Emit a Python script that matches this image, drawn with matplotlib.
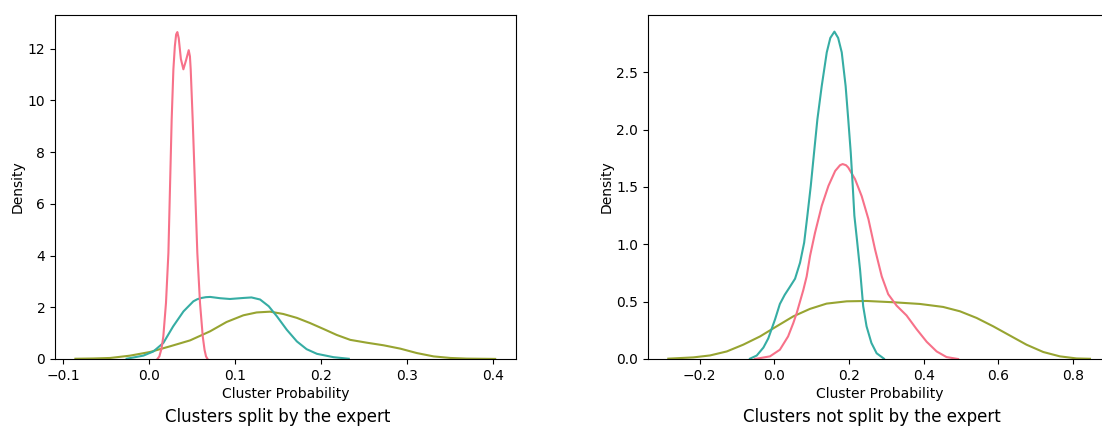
import matplotlib
matplotlib.use("Agg")
import matplotlib.pyplot as plt

# husl palette, 3 colours
colors = {"pink": "#f77189", "olive": "#97a431", "teal": "#36ada4"}

# --- left panel: clusters split by the expert ---
split_pink_x = [0.0097, 0.012, 0.0145, 0.0166, 0.0197, 0.0225, 0.0244, 0.0263, 0.0283, 0.030,
                0.0315, 0.0329, 0.0345, 0.037, 0.0399, 0.043, 0.0461, 0.0475, 0.0484, 0.0507,
                0.0534, 0.0561, 0.0592, 0.0624, 0.0645, 0.0662, 0.068]
split_pink_y = [0.0, 0.1, 0.4, 0.87, 2.17, 4.10, 6.68, 9.26, 11.2, 12.1,
                12.55, 12.64, 12.4, 11.6, 11.2, 11.55, 11.94, 11.7, 11.2, 9.26,
                6.68, 4.10, 2.17, 0.87, 0.35, 0.1, 0.0]

split_teal_x = [-0.026, -0.0066, 0.005, 0.0166, 0.028, 0.040, 0.0515, 0.056, 0.061, 0.066,
                0.071, 0.0826, 0.094, 0.1096, 0.119, 0.129, 0.139, 0.1485, 0.160, 0.1717,
                0.183, 0.195, 0.2143, 0.232]
split_teal_y = [0.01, 0.13, 0.29, 0.62, 1.26, 1.84, 2.23, 2.31, 2.36, 2.39,
                2.40, 2.35, 2.32, 2.36, 2.38, 2.30, 2.04, 1.65, 1.13, 0.68,
                0.38, 0.20, 0.07, 0.01]

split_olive_x = [-0.0855, -0.065, -0.045, -0.022, 0.001, 0.0244, 0.0477, 0.0709, 0.090, 0.1096,
                 0.125, 0.1407, 0.156, 0.1717, 0.187, 0.2027, 0.218, 0.2337, 0.253, 0.2724,
                 0.2919, 0.311, 0.3306, 0.350, 0.369, 0.402]
split_olive_y = [0.01, 0.02, 0.04, 0.13, 0.27, 0.49, 0.72, 1.07, 1.43, 1.69,
                 1.80, 1.83, 1.74, 1.59, 1.39, 1.16, 0.93, 0.74, 0.63, 0.53,
                 0.40, 0.23, 0.10, 0.04, 0.015, 0.003]

# --- right panel: clusters not split by the expert ---
nosplit_teal_x = [-0.065, -0.047, -0.029, -0.016, 0.002, 0.015, 0.028, 0.040, 0.0556, 0.069,
                  0.080, 0.0886, 0.0977, 0.1065, 0.1154, 0.127, 0.1405, 0.150, 0.161, 0.171,
                  0.1806, 0.191, 0.198, 0.2047, 0.210, 0.2144, 0.221, 0.2296, 0.238, 0.247,
                  0.260, 0.274, 0.2935]
nosplit_teal_y = [0.003, 0.03, 0.10, 0.18, 0.345, 0.48, 0.56, 0.62, 0.70, 0.84,
                  1.015, 1.25, 1.51, 1.80, 2.09, 2.38, 2.674, 2.80, 2.855, 2.80,
                  2.674, 2.38, 2.09, 1.80, 1.51, 1.25, 1.05, 0.78, 0.46, 0.285,
                  0.14, 0.05, 0.003]

nosplit_pink_x = [-0.052, -0.0115, 0.015, 0.037, 0.051, 0.060, 0.0776, 0.0867, 0.0958, 0.109,
                  0.127, 0.145, 0.163, 0.176, 0.183, 0.192, 0.198, 0.216, 0.234, 0.252,
                  0.2697, 0.2877, 0.305, 0.3275, 0.354, 0.381, 0.408, 0.4346, 0.461, 0.492]
nosplit_pink_y = [0.0, 0.023, 0.081, 0.197, 0.314, 0.40, 0.60, 0.72, 0.90, 1.10,
                  1.335, 1.51, 1.64, 1.69, 1.70, 1.69, 1.67, 1.57, 1.42, 1.22,
                  0.956, 0.72, 0.565, 0.465, 0.38, 0.26, 0.15, 0.066, 0.017, 0.0]

nosplit_olive_x = [-0.2837, -0.2167, -0.172, -0.127, -0.083, -0.038, 0.0064, 0.051, 0.0955, 0.140,
                   0.194, 0.247, 0.318, 0.390, 0.452, 0.497, 0.5416, 0.586, 0.631, 0.675,
                   0.720, 0.7645, 0.809, 0.845]
nosplit_olive_y = [0.003, 0.014, 0.031, 0.066, 0.125, 0.197, 0.285, 0.372, 0.437, 0.483,
                   0.503, 0.506, 0.495, 0.480, 0.454, 0.416, 0.358, 0.285, 0.204, 0.125,
                   0.061, 0.023, 0.005, 0.002]

W, H = 1102, 426
fig = plt.figure(figsize=(W / 100, H / 100), dpi=100)

ax1 = fig.add_axes([55 / W, 67 / H, 461 / W, 344 / H])
ax2 = fig.add_axes([648 / W, 67 / H, 464 / W, 344 / H])

ax1.plot(split_olive_x, split_olive_y, color=colors["olive"], lw=1.5)
ax1.plot(split_teal_x, split_teal_y, color=colors["teal"], lw=1.5)
ax1.plot(split_pink_x, split_pink_y, color=colors["pink"], lw=1.5)

ax2.plot(nosplit_olive_x, nosplit_olive_y, color=colors["olive"], lw=1.5)
ax2.plot(nosplit_pink_x, nosplit_pink_y, color=colors["pink"], lw=1.5)
ax2.plot(nosplit_teal_x, nosplit_teal_y, color=colors["teal"], lw=1.5)

ax1.set_xlim(-0.1092, 0.4262)
ax1.set_ylim(0, 13.3)
ax1.set_xticks([-0.1, 0.0, 0.1, 0.2, 0.3, 0.4])
ax1.set_yticks([0, 2, 4, 6, 8, 10, 12])

ax2.set_xlim(-0.338, 0.904)
ax2.set_ylim(0, 3.0)
ax2.set_xticks([-0.2, 0.0, 0.2, 0.4, 0.6, 0.8])
ax2.set_yticks([0.0, 0.5, 1.0, 1.5, 2.0, 2.5])

for ax in (ax1, ax2):
    ax.set_xlabel("Cluster Probability", labelpad=3)
    ax.set_ylabel("Density", labelpad=2)

fig.text(278 / W, 9 / H, "Clusters split by the expert", ha="center", va="center", fontsize=12)
fig.text(872 / W, 9 / H, "Clusters not split by the expert", ha="center", va="center", fontsize=12)

fig.savefig("out.png", dpi=100)
